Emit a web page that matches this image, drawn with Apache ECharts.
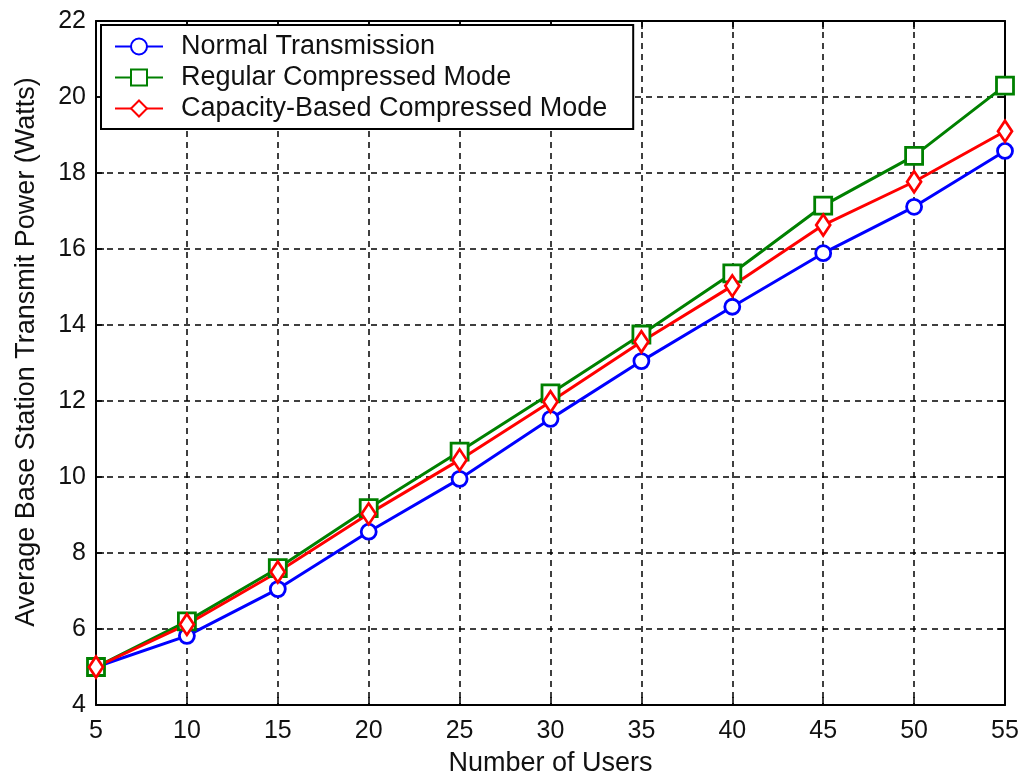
<!DOCTYPE html>
<html>
<head>
<meta charset="utf-8">
<script src="https://cdn.jsdelivr.net/npm/echarts@6/dist/echarts.min.js"></script>
<style>
  html, body { margin: 0; padding: 0; background: #fff; }
  #chart { width: 1025px; height: 774px; }
</style>
</head>
<body>
<div id="chart"></div>
<script>
// number of users
const users = [5, 10, 15, 20, 25, 30, 35, 40, 45, 50, 55]
// average base station transmit power (Watts)
const normalTx = [5.0, 5.82, 7.05, 8.56, 9.95, 11.53, 13.05, 14.48, 15.89, 17.11, 18.58]
const regularCM = [5.0, 6.2, 7.6, 9.18, 10.67, 12.2, 13.75, 15.36, 17.14, 18.45, 20.3]
const capacityCM = [5.0, 6.12, 7.5, 9.03, 10.45, 11.98, 13.56, 15.03, 16.63, 17.77, 19.1]

const names = ['Normal Transmission', 'Regular Compressed Mode', 'Capacity-Based Compressed Mode']

const font = 'Arial, "Liberation Sans", sans-serif'
const txt = '#111'

function pairs(ys) {
    return users.map((x, i) => [x, ys[i]])
}

function makeSeries(name, ys, color, symbol, size) {
    return {
        name: name,
        type: 'line',
        data: pairs(ys),
        symbol: symbol,
        symbolSize: size,
        showSymbol: true,
        lineStyle: {color: color, width: 3},
        itemStyle: {color: '#fff', borderColor: color, borderWidth: 2.8},
        emphasis: {disabled: true},
        z: 5
    }
}

const chart = echarts.init(document.getElementById('chart'))

const dashed = {show: true, lineStyle: {color: '#000', type: [6, 5], width: 1.5}}
const tick = {show: true, inside: true, length: 8, lineStyle: {color: '#000', width: 1.5}}
const axisLine = {show: true, onZero: false, lineStyle: {color: '#000', width: 2}}

chart.setOption({
    animation: false,
    backgroundColor: '#fff',
    grid: {left: 96, top: 21, right: 20, bottom: 69, containLabel: false, outerBoundsMode: 'none'},
    legend: {
        orient: 'vertical',
        left: 101,
        top: 25,
        padding: [8, 26, 7, 13],
        itemGap: 4,
        itemWidth: 48,
        itemHeight: 20,
        backgroundColor: '#fff',
        borderColor: '#000',
        borderWidth: 2,
        borderRadius: 0,
        textStyle: {fontFamily: font, fontSize: 27, color: txt, padding: [0, 0, 0, 13], lineHeight: 26},
        data: names,
        selectedMode: false,
        z: 10
    },
    xAxis: [{
        type: 'value',
        min: 5,
        max: 55,
        interval: 5,
        name: 'Number of Users',
        nameLocation: 'middle',
        nameGap: 45,
        nameTextStyle: {fontFamily: font, fontSize: 27, color: txt},
        axisLine: axisLine,
        axisTick: tick,
        axisLabel: {fontFamily: font, fontSize: 25, color: txt, margin: 14},
        splitLine: dashed
    }, {
        type: 'value',
        position: 'top',
        min: 5,
        max: 55,
        interval: 5,
        axisLine: axisLine,
        axisTick: tick,
        axisLabel: {show: false},
        splitLine: {show: false}
    }],
    yAxis: [{
        type: 'value',
        min: 4,
        max: 22,
        interval: 2,
        name: 'Average Base Station Transmit Power (Watts)',
        nameLocation: 'middle',
        nameGap: 56,
        nameTextStyle: {fontFamily: font, fontSize: 27, color: txt, padding: [0, 0, 0, 22]},
        axisLine: axisLine,
        axisTick: tick,
        axisLabel: {fontFamily: font, fontSize: 25, color: txt, margin: 10},
        splitLine: dashed
    }, {
        type: 'value',
        position: 'right',
        min: 4,
        max: 22,
        interval: 2,
        axisLine: axisLine,
        axisTick: tick,
        axisLabel: {show: false},
        splitLine: {show: false}
    }],
    series: [
        makeSeries(names[0], normalTx, '#0000ff', 'circle', 15),
        makeSeries(names[1], regularCM, '#008000', 'rect', 17),
        makeSeries(names[2], capacityCM, '#ff0000', 'diamond', [14, 21])
    ]
})
</script>
</body>
</html>
